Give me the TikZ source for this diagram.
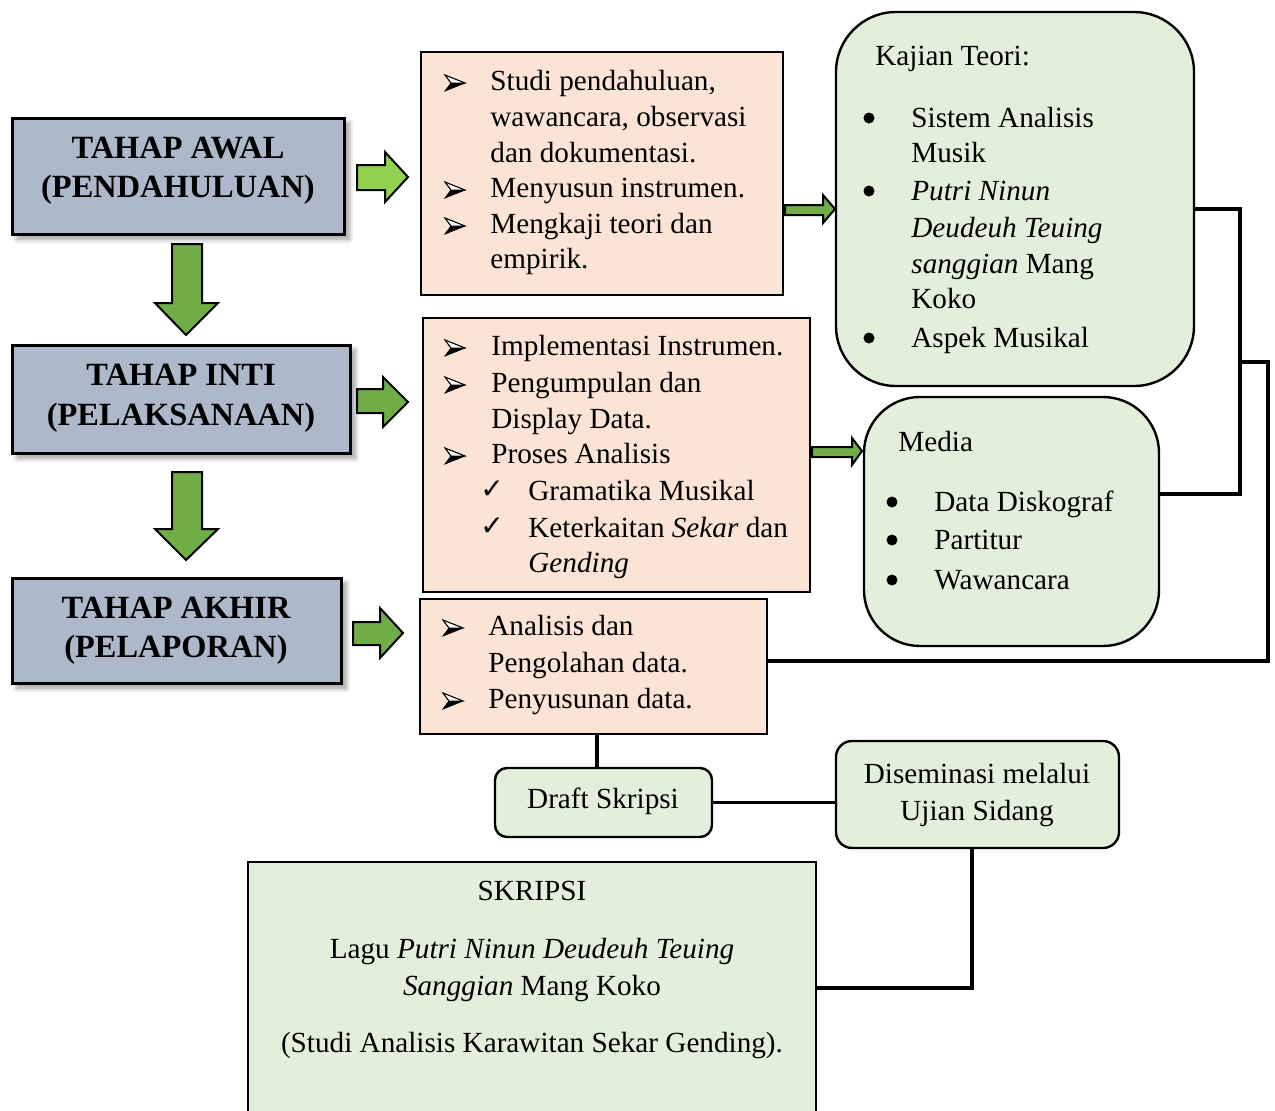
\documentclass[tikz,border=0pt]{standalone}
\usepackage{fontspec}
\setmainfont{Liberation Serif}
\newfontfamily\dejavu{DejaVu Sans}
\usetikzlibrary{shadows.blur}
\definecolor{phase}{HTML}{ADB9CA}
\definecolor{peach}{HTML}{FBE4D5}
\definecolor{pale}{HTML}{E2EFDA}
\definecolor{lgreen}{HTML}{92D050}
\definecolor{dgreen}{HTML}{70AD47}
\begin{document}
\begin{tikzpicture}[x=0.5pt,y=-0.5pt,
  phasebox/.style={draw=black, line width=1.5pt, fill=phase, inner sep=0pt,
    blur shadow={shadow xshift=2.5pt, shadow yshift=-2.5pt, shadow blur steps=6, shadow blur radius=2.5pt}},
  peachbox/.style={draw=black, line width=1.2pt, fill=peach, inner sep=0pt},
  greenbox/.style={draw=black, line width=1.2pt, fill=pale, inner sep=0pt},
  conn/.style={draw=black, line width=1.6pt},
  blockarrow/.style={draw=black, line width=1pt, line join=miter},
  ttl/.style={anchor=base, inner sep=0pt, font=\bfseries\fontsize{16.2}{19}\selectfont},
  txt/.style={anchor=base west, inner sep=0pt, font=\fontsize{14.6}{17.5}\selectfont},
  ctxt/.style={anchor=base, inner sep=0pt, font=\fontsize{14.6}{17.5}\selectfont},
  chk/.style={anchor=base west, inner sep=0pt, font=\dejavu\fontsize{14}{16}\selectfont},
  arrb/.pic={
    \draw[line width=0.4pt, fill=white, line join=miter] (0,-8) -- (20,0) -- (6,0) -- cycle;
    \fill[black] (6,0) -- (20,0) -- (0,8) -- cycle;
    \draw[line width=0.4pt, line join=miter] (0,-8) -- (20,0) -- (0,8) -- (6,0) -- cycle;
  }
]
\useasboundingbox (0,0) rectangle (1275,1110);
\clip (0,0) rectangle (1275,1110);

% ---- phase boxes
\node[phasebox, minimum width=166pt, minimum height=58pt] (awal) at (178,176) {};
\node[phasebox, minimum width=169pt, minimum height=54pt] (inti) at (181,399) {};
\node[phasebox, minimum width=164.5pt, minimum height=52.5pt] (akhir) at (176.5,630.5) {};
\node[ttl] (t1a) at (178,158) {TAHAP AWAL};
\node[ttl] (t1b) at (178,197) {(PENDAHULUAN)};
\node[ttl] (t2a) at (181,385) {TAHAP INTI};
\node[ttl] (t2b) at (181,425) {(PELAKSANAAN)};
\node[ttl] (t3a) at (176,618) {TAHAP AKHIR};
\node[ttl] (t3b) at (176,657) {(PELAPORAN)};

% ---- block arrows
\draw[blockarrow, fill=lgreen] (357,165) -- (385,165) -- (385,152) -- (408,177) -- (385,202) -- (385,190) -- (357,190) -- cycle;
\draw[blockarrow, fill=dgreen] (357,389) -- (383,389) -- (383,377) -- (408,402) -- (383,427) -- (383,413) -- (357,413) -- cycle;
\draw[blockarrow, fill=dgreen] (353,622) -- (380,622) -- (380,608) -- (403,633) -- (380,658) -- (380,645) -- (353,645) -- cycle;
\draw[blockarrow, fill=dgreen] (172,244) -- (202,244) -- (202,303) -- (218,303) -- (186,335) -- (155,303) -- (172,303) -- cycle;
\draw[blockarrow, fill=dgreen] (172,472) -- (202,472) -- (202,529) -- (218,529) -- (186,560) -- (155,529) -- (172,529) -- cycle;

% ---- peach boxes
\node[peachbox, minimum width=181pt, minimum height=121.5pt] (pA) at (602,173.5) {};
\node[peachbox, minimum width=193.5pt, minimum height=137pt] (pB) at (616.5,455) {};
\node[peachbox, minimum width=173.5pt, minimum height=67.5pt] (pC) at (593.5,666.5) {};

% ---- green boxes
\node[greenbox, rounded corners=30pt, minimum width=179pt, minimum height=187pt] (kajian) at (1015,199) {};
\node[greenbox, rounded corners=28pt, minimum width=147.5pt, minimum height=124.5pt] (media) at (1011.5,521.5) {};
\node[greenbox, rounded corners=6pt, minimum width=108.5pt, minimum height=34.5pt] (draft) at (603.5,802.5) {};
\node[greenbox, rounded corners=8pt, minimum width=141.5pt, minimum height=53.5pt] (disem) at (977.5,794.5) {};
\node[greenbox, minimum width=284pt, minimum height=131.5pt] (skripsi) at (532,993.5) {};

% ---- small arrows
\draw[blockarrow, fill=dgreen] (785,205) -- (823,205) -- (823,195) -- (835,209) -- (823,223) -- (823,215) -- (785,215) -- cycle;
\draw[blockarrow, fill=dgreen] (812,447) -- (852,447) -- (852,438) -- (862,451) -- (852,465) -- (852,457) -- (812,457) -- cycle;

% ---- connectors
\coordinate (r1) at (1240,209);
\coordinate (r2) at (1240,494);
\coordinate (r3) at (1240,362);
\coordinate (r4) at (1268,362);
\coordinate (r5) at (1268,661);
\coordinate (d1) at (597,0);
\coordinate (s1) at (972,988);
\draw[conn] (kajian.east |- r1) -- (r1) -- (r2) -- (media.east |- r2);
\draw[conn] (r3) -- (r4) -- (r5) -- (pC.east |- r5);
\draw[conn] (pC.south -| d1) -- (draft.north -| d1);
\draw[conn] (draft.east) -- (disem.west |- draft.east);
\draw[conn] (disem.south -| s1) -- (s1) -- (skripsi.east |- s1);

% ---- text A
\pic at (445,83) {arrb};
\pic at (445,190) {arrb};
\pic at (445,226) {arrb};
\node[txt] (a1) at (490,90) {Studi pendahuluan,};
\node[txt] (a2) at (490,126) {wawancara, observasi};
\node[txt] (a3) at (490,162) {dan dokumentasi.};
\node[txt] (a4) at (490,197) {Menyusun instrumen.};
\node[txt] (a5) at (490,233) {Mengkaji teori dan};
\node[txt] (a6) at (490,268) {empirik.};

% ---- text B
\pic at (445,348) {arrb};
\pic at (445,385) {arrb};
\pic at (445,456) {arrb};
\node[txt] (b1) at (491,355) {Implementasi Instrumen.};
\node[txt] (b2) at (491,392) {Pengumpulan dan};
\node[txt] (b3) at (491,428) {Display Data.};
\node[txt] (b4) at (491,463) {Proses Analisis};
\node[chk] (bc1) at (480,498) {✓};
\node[chk] (bc2) at (480,535) {✓};
\node[txt] (b5) at (528,500) {Gramatika Musikal};
\node[txt] (b6) at (528,537) {Keterkaitan \textit{Sekar} dan};
\node[txt] (b7) at (528,572) {\textit{Gending}};

% ---- text C
\pic at (443,628) {arrb};
\pic at (443,701) {arrb};
\node[txt] (c1) at (488,635) {Analisis dan};
\node[txt] (c2) at (488,672) {Pengolahan data.};
\node[txt] (c3) at (488,708) {Penyusunan data.};

% ---- Kajian text
\node[txt] (k0) at (875,65) {Kajian Teori:};
\fill (869,118) circle[radius=5.5];
\fill (869,191) circle[radius=5.5];
\fill (869,338) circle[radius=5.5];
\node[txt] (k1) at (911,127) {Sistem Analisis};
\node[txt] (k2) at (911,162) {Musik};
\node[txt] (k3) at (911,200) {\textit{Putri Ninun}};
\node[txt] (k4) at (911,237) {\textit{Deudeuh Teuing}};
\node[txt] (k5) at (911,273) {\textit{sanggian} Mang};
\node[txt] (k6) at (911,308) {Koko};
\node[txt] (k7) at (911,347) {Aspek Musikal};

% ---- Media text
\node[txt] (m0) at (898,451) {Media};
\fill (892,502) circle[radius=5.5];
\fill (892,540) circle[radius=5.5];
\fill (892,580) circle[radius=5.5];
\node[txt] (m1) at (934,511) {Data Diskograf};
\node[txt] (m2) at (934,549) {Partitur};
\node[txt] (m3) at (934,589) {Wawancara};

% ---- other texts
\node[ctxt] (dr) at (603,808) {Draft Skripsi};
\node[ctxt] (ds1) at (977,783) {Diseminasi melalui};
\node[ctxt] (ds2) at (977,820) {Ujian Sidang};
\node[ctxt] (sk1) at (532,900) {SKRIPSI};
\node[ctxt] (sk2) at (532,958) {Lagu \textit{Putri Ninun Deudeuh Teuing}};
\node[ctxt] (sk3) at (532,995) {\textit{Sanggian} Mang Koko};
\node[ctxt] (sk4) at (532,1052) {(Studi Analisis Karawitan Sekar Gending).};
\end{tikzpicture}
\end{document}
